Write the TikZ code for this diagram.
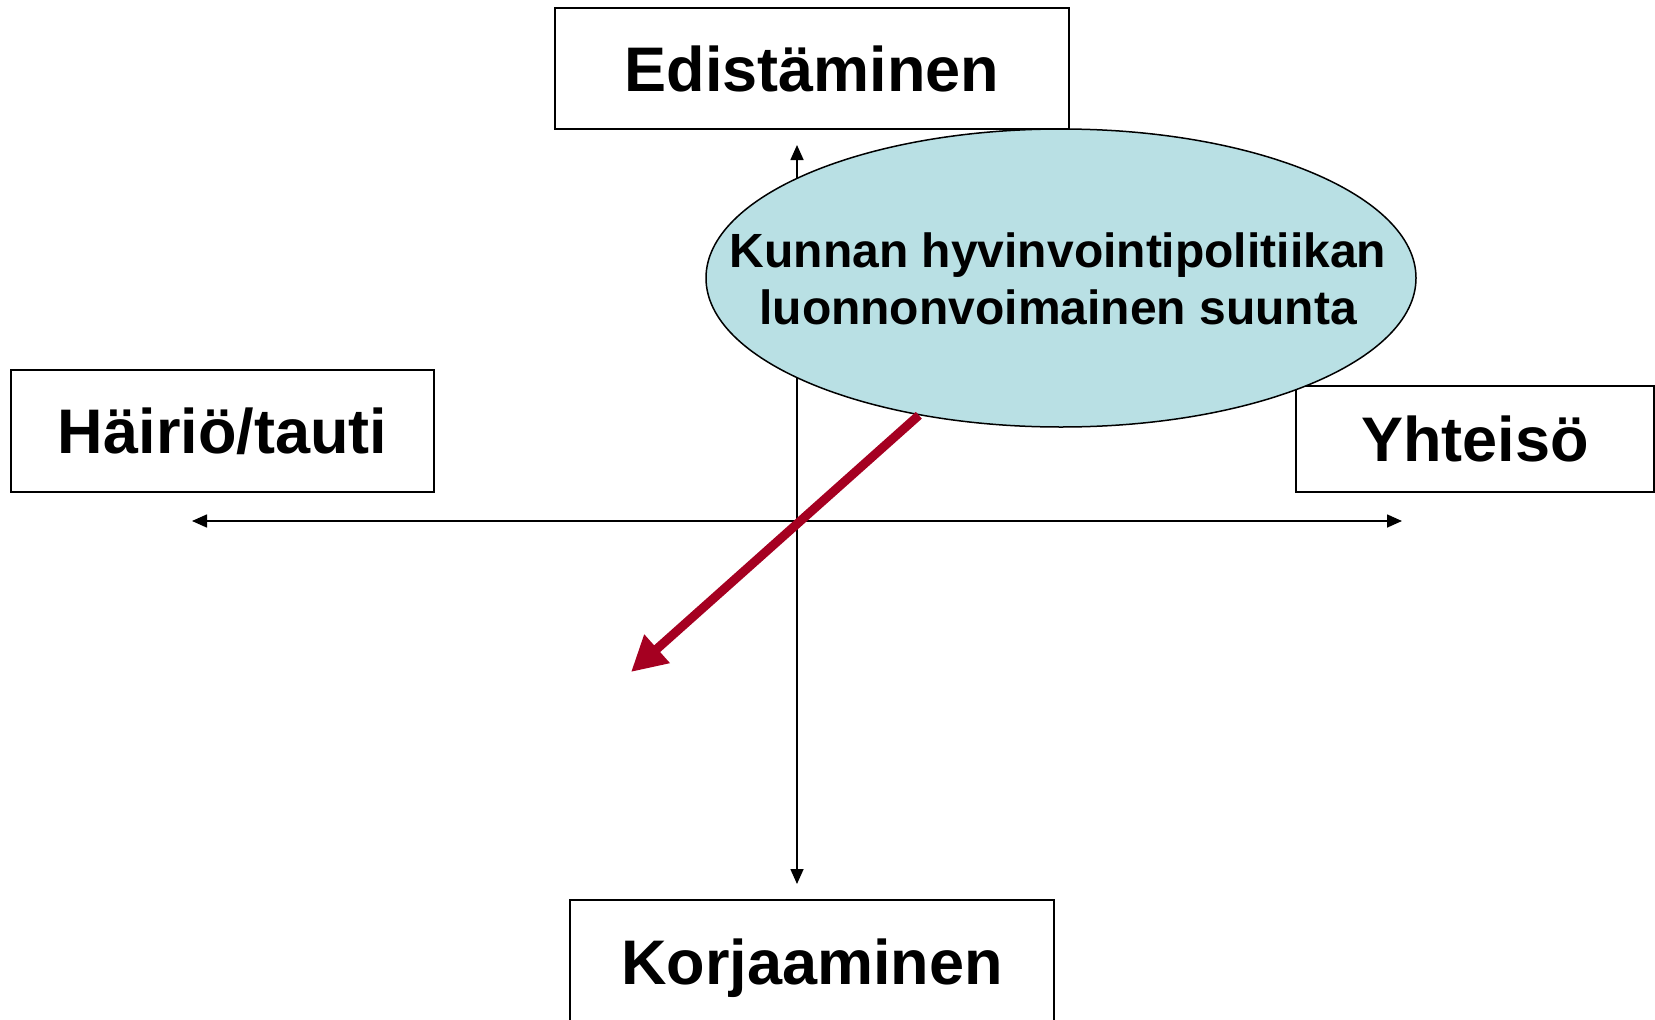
\documentclass[tikz,border=0pt]{standalone}
\usepackage{fontspec}
\setmainfont{Liberation Sans}
\usetikzlibrary{shapes.geometric,arrows.meta}
\definecolor{soikio}{RGB}{185,224,228}
\definecolor{viini}{RGB}{165,0,33}

\begin{document}
\begin{tikzpicture}[x=1pt, y=-1pt,
	laatikko/.style={shape=rectangle, draw, line width=1.5pt, fill=white, inner sep=0pt, font=\fontsize{63}{75}\selectfont\bfseries, text height=45pt, text depth=0pt},
	akseli/.style={line width=1.6pt, {Triangle[length=15pt,width=13pt]}-{Triangle[length=15pt,width=13pt]}},
	suuntanuoli/.style={line width=9pt, color=viini, -{Triangle[length=35pt,width=36pt]}}]
	\useasboundingbox (0,0) rectangle (1655,1020);
	% Paths, nodes and wires:
	\node[laatikko, minimum width=514pt, minimum height=121pt] (edist) at (812, 68.5){Edistäminen};
	\node[laatikko, minimum width=484pt, minimum height=124pt] (korj) at (812, 962){Korjaaminen};
	\node[laatikko, minimum width=423pt, minimum height=122pt] (hairio) at (222.5, 431){Häiriö/tauti};
	\node[laatikko, minimum width=358pt, minimum height=106pt] (yhteiso) at (1475, 439){Yhteisö};
	\coordinate (ylos) at (797, 145);
	\coordinate (alas) at (797, 884);
	\coordinate (vasen) at (192, 521);
	\coordinate (oikea) at (1402, 521);
	\draw[akseli] (alas) -- (ylos);
	\draw[akseli] (vasen) -- (oikea);
	\node[shape=ellipse, draw, line width=1.5pt, fill=soikio, inner sep=0pt, minimum width=710pt, minimum height=298pt] (suunta) at (1061, 278){};
	\node[align=center, inner sep=0pt, font=\fontsize{48}{57}\selectfont\bfseries] (suuntateksti) at (1058, 279){Kunnan hyvinvointipolitiikan\\luonnonvoimainen suunta};
	\coordinate (kohde) at (631, 672);
	\draw[suuntanuoli] (suunta.224) -- (kohde);
\end{tikzpicture}
\end{document}
